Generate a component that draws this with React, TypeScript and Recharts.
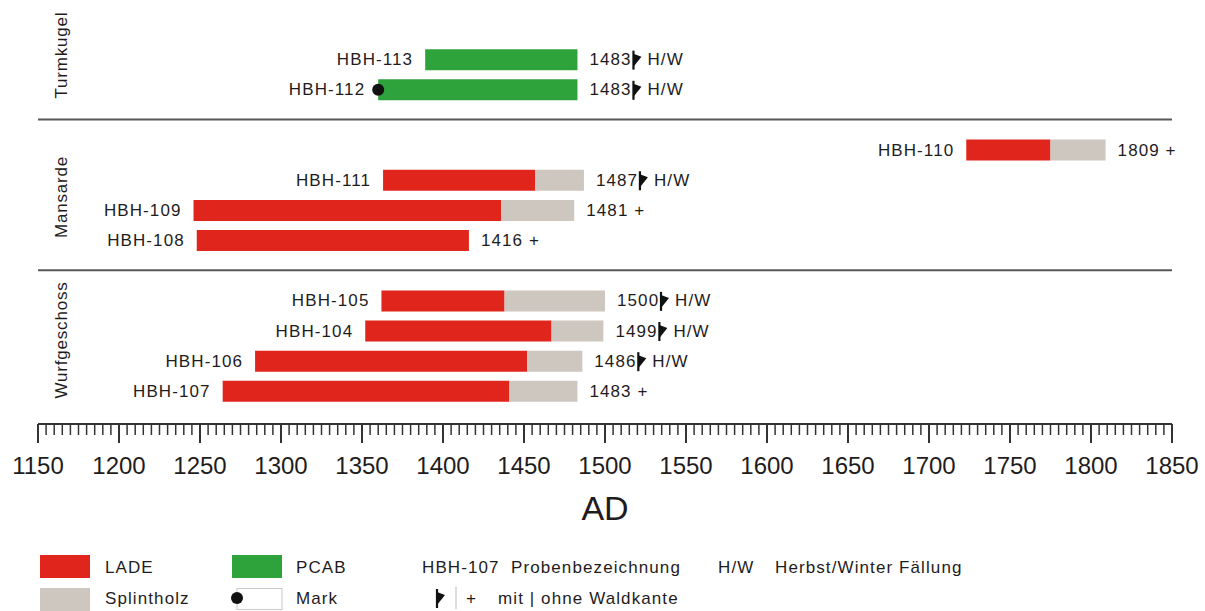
import React from 'react';
import { BarChart, Bar, XAxis, YAxis, ReferenceLine, LabelList } from 'recharts';

// Row order from top to bottom; "top", "sep1", "sep2" are empty spacer rows
const rowOrder = ['top', 'HBH-113', 'HBH-112', 'sep1', 'HBH-110', 'HBH-111', 'HBH-109', 'HBH-108', 'sep2', 'HBH-105', 'HBH-104', 'HBH-106', 'HBH-107'];

// Samples and their dated ring series
const samples = ['HBH-113', 'HBH-112', 'HBH-110', 'HBH-111', 'HBH-109', 'HBH-108', 'HBH-105', 'HBH-104', 'HBH-106', 'HBH-107'];
const species = ['PCAB', 'PCAB', 'LADE', 'LADE', 'LADE', 'LADE', 'LADE', 'LADE', 'LADE', 'LADE'];
const firstRing = [1389, 1360, 1723, 1363, 1246, 1248, 1362, 1352, 1284, 1264];
const heartwoodEnd = [1483, 1483, 1775, 1457, 1436, 1416, 1438, 1467, 1452, 1441];
const lastRing = [1483, 1483, 1809, 1487, 1481, 1416, 1500, 1499, 1486, 1483];
const waldkante = [true, true, false, true, false, false, true, true, true, false];
const pith = [false, true, false, false, false, false, false, false, false, false];

// Building sections
const sections = ['Turmkugel', 'Mansarde', 'Wurfgeschoss'];
const separators = ['sep1', 'sep2'];

// Axis ticks
const majorTicks = [1150, 1200, 1250, 1300, 1350, 1400, 1450, 1500, 1550, 1600, 1650, 1700, 1750, 1800, 1850];
const minorStep = 5;

const allTicks: number[] = [];
for (let t = majorTicks[0]; t <= majorTicks[majorTicks.length - 1]; t += minorStep) allTicks.push(t);

const data = rowOrder.map((name) => {
  const i = samples.indexOf(name);
  if (i < 0) return { name };
  return {
    name,
    base: firstRing[i],
    lade: species[i] === 'LADE' ? heartwoodEnd[i] - firstRing[i] : 0,
    pcab: species[i] === 'PCAB' ? lastRing[i] - firstRing[i] : 0,
    splint: lastRing[i] - heartwoodEnd[i],
  };
});

// Which stacked segment closes each row (the right-hand label hangs off it)
const lastSegment = samples.map((_, i) =>
  lastRing[i] > heartwoodEnd[i] ? 'splint' : species[i] === 'PCAB' ? 'pcab' : 'lade'
);

const RED = '#e0261c';
const GREY = '#cec7bf';
const GREEN = '#2fa33b';
const INK = '#1f1c1d';
const FONT = '"Liberation Sans", Arial, Helvetica, sans-serif';

const WaldkanteMark = ({ x, y }: { x: number; y: number }) => (
  <g>
    <line x1={x} x2={x} y1={y - 9} y2={y + 10} stroke="#111" strokeWidth={2.2} />
    <path d={`M${x},${y - 6} L${x + 8},${y - 3} L${x},${y + 7} Z`} fill="#111" />
  </g>
);

const box = (props: any) => {
  const vb = props.viewBox && props.viewBox.x !== undefined ? props.viewBox : props;
  return { x: Number(vb.x), y: Number(vb.y), width: Number(vb.width), height: Number(vb.height) };
};

const LeftLabel = (props: any) => {
  const i = samples.indexOf(props.value);
  if (i < 0) return null;
  const { x, y, width, height } = box(props);
  const start = x + width;
  const cy = y + height / 2;
  return (
    <g>
      {pith[i] && <circle cx={start} cy={cy} r={6} fill="#111" />}
      <text x={start - (pith[i] ? 13 : 12)} y={cy} textAnchor="end" dominantBaseline="central"
        fontFamily={FONT} fontSize={17} letterSpacing={1.1} fill={INK}>{samples[i]}</text>
    </g>
  );
};

const RightLabel = (props: any) => {
  const i = samples.indexOf(props.value);
  if (i < 0 || lastSegment[i] !== props.segment) return null;
  const { x, y, width, height } = box(props);
  const end = x + width;
  const cy = y + height / 2;
  const tx = end + 12;
  if (waldkante[i]) {
    return (
      <g fontFamily={FONT} fontSize={17} letterSpacing={1.1} fill={INK}>
        <text x={tx} y={cy} dominantBaseline="central">{lastRing[i]}</text>
        <WaldkanteMark x={tx + 44} y={cy} />
        <text x={tx + 58} y={cy} dominantBaseline="central">H/W</text>
      </g>
    );
  }
  return (
    <text x={tx} y={cy} dominantBaseline="central" fontFamily={FONT} fontSize={17} letterSpacing={1.1} fill={INK}>
      {`${lastRing[i]} +`}
    </text>
  );
};

const AxisTick = (props: any) => {
  const { x, y, payload } = props;
  const v = payload.value;
  const major = v % 50 === 0;
  return (
    <g>
      <line x1={x} x2={x} y1={y} y2={y + (major ? 19 : 11)} stroke="#333" strokeWidth={major ? 2 : 1.5} />
      {major && (
        <text x={x} y={y + 50} textAnchor="middle" fontFamily={FONT} fontSize={24} fill={INK}>{v}</text>
      )}
    </g>
  );
};

const sectionCenters = [55, 197, 340];

export default function App() {
  return (
    <div style={{ position: 'absolute', left: 0, top: 0, width: 1205, height: 611, background: '#fff' }}>
      <BarChart
        width={1205}
        height={611}
        data={data}
        layout="vertical"
        margin={{ top: 14, right: 33, left: 38, bottom: 0 }}
        barSize={21}
      >
        <XAxis
          type="number"
          domain={[majorTicks[0], majorTicks[majorTicks.length - 1]]}
          allowDataOverflow
          ticks={allTicks}
          interval={0}
          tick={<AxisTick />}
          tickLine={false}
          tickSize={0}
          tickMargin={0}
          height={187}
          axisLine={{ stroke: '#333', strokeWidth: 2 }}
        />
        <YAxis type="category" dataKey="name" hide width={0} padding={{ top: 0, bottom: 18 }} />
        {separators.map((s) => (
          <ReferenceLine key={s} y={s} stroke="#58585a" strokeWidth={2} />
        ))}
        <Bar dataKey="base" stackId="s" fill="transparent" isAnimationActive={false}>
          <LabelList dataKey="name" content={<LeftLabel />} />
        </Bar>
        <Bar dataKey="lade" stackId="s" fill={RED} isAnimationActive={false}>
          <LabelList dataKey="name" content={<RightLabel segment="lade" />} />
        </Bar>
        <Bar dataKey="pcab" stackId="s" fill={GREEN} isAnimationActive={false}>
          <LabelList dataKey="name" content={<RightLabel segment="pcab" />} />
        </Bar>
        <Bar dataKey="splint" stackId="s" fill={GREY} isAnimationActive={false}>
          <LabelList dataKey="name" content={<RightLabel segment="splint" />} />
        </Bar>
      </BarChart>

      <svg width={1205} height={611} style={{ position: 'absolute', left: 0, top: 0, pointerEvents: 'none' }}>
        {sections.map((s, k) => (
          <text key={s} x={61} y={sectionCenters[k]} transform={`rotate(-90 61 ${sectionCenters[k]})`}
            textAnchor="middle" dominantBaseline="central" fontFamily={FONT} fontSize={17} letterSpacing={0.8} fill={INK}>
            {s}
          </text>
        ))}
        <text x={605} y={508} textAnchor="middle" dominantBaseline="central" fontFamily={FONT} fontSize={34} fill={INK}>AD</text>

        <g fontFamily={FONT} fontSize={17} letterSpacing={1.1} fill={INK}>
          <rect x={40} y={555} width={50} height={23} fill={RED} />
          <text x={105} y={567} dominantBaseline="central">LADE</text>
          <rect x={40} y={588} width={50} height={23} fill={GREY} />
          <text x={105} y={598} dominantBaseline="central">Splintholz</text>

          <rect x={232} y={555} width={50} height={23} fill={GREEN} />
          <text x={296} y={567} dominantBaseline="central">PCAB</text>
          <rect x={237} y={588.5} width={45} height={21} fill="#fff" stroke="#c9c9c9" strokeWidth={1} />
          <circle cx={237} cy={598} r={6} fill="#111" />
          <text x={296} y={598} dominantBaseline="central">Mark</text>

          <text x={422} y={567} dominantBaseline="central">HBH-107</text>
          <text x={511} y={567} dominantBaseline="central">Probenbezeichnung</text>
          <text x={718} y={567} dominantBaseline="central">H/W</text>
          <text x={775} y={567} dominantBaseline="central">Herbst/Winter Fällung</text>

          <WaldkanteMark x={437} y={598} />
          <line x1={456} x2={456} y1={587} y2={609} stroke="#bbb" strokeWidth={1} />
          <text x={466} y={598} dominantBaseline="central">+</text>
          <text x={498} y={598} dominantBaseline="central">mit | ohne Waldkante</text>
        </g>
      </svg>
    </div>
  );
}
